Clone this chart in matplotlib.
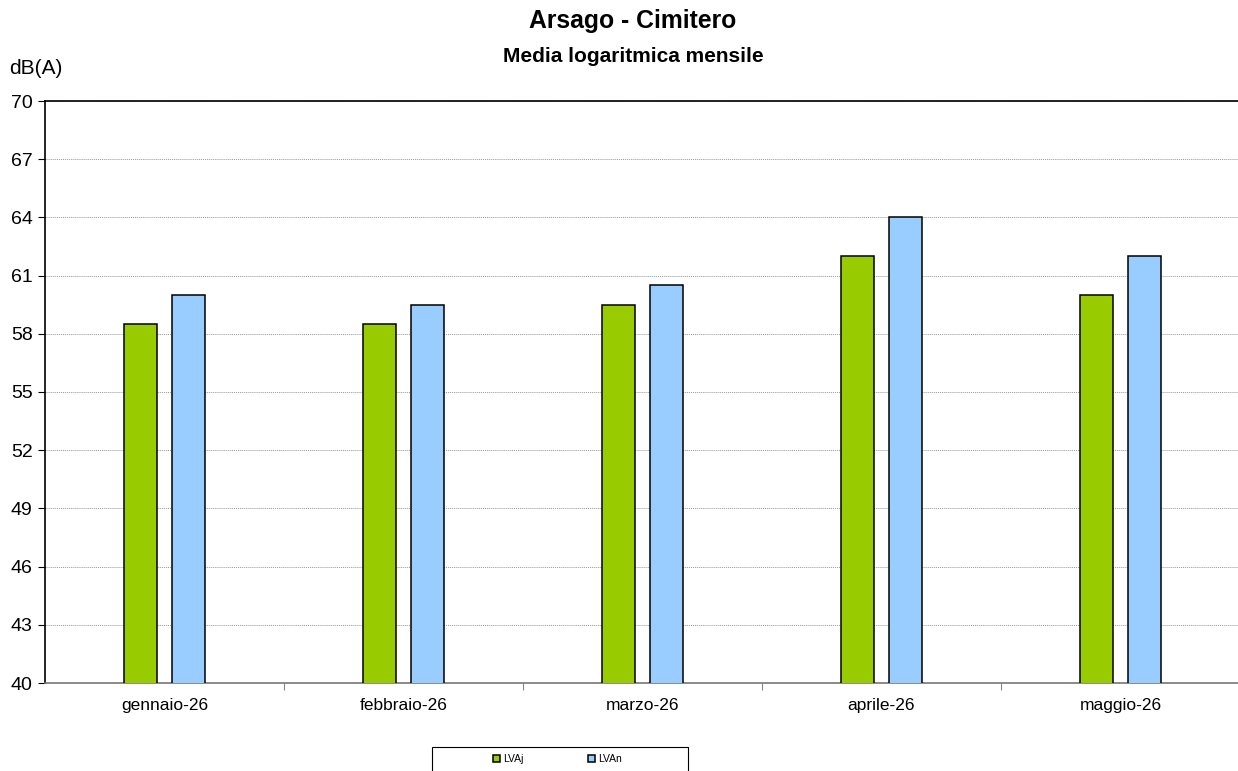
import matplotlib.pyplot as plt
from matplotlib.patches import Rectangle
import numpy as np

plt.rcParams['font.family'] = ['Liberation Sans', 'DejaVu Sans']

# Data
months = ['gennaio-26', 'febbraio-26', 'marzo-26', 'aprile-26', 'maggio-26']
lvaj = [58.5, 58.5, 59.5, 62.0, 60.0]
lvan = [60.0, 59.5, 60.5, 64.0, 62.0]
yticks = list(range(40, 71, 3))

fig = plt.figure(figsize=(12.38, 7.71), dpi=100)
ax = fig.add_axes([45 / 1238, 1 - 683 / 771, 1195 / 1238, 582 / 771])

x = np.arange(len(months))
w = 0.138
ax.bar(x - 0.102, lvaj, w, bottom=0, color='#99CC00', edgecolor='black',
       linewidth=1.1, label='LVAj', zorder=3)
ax.bar(x + 0.102, lvan, w, bottom=0, color='#99CCFF', edgecolor='black',
       linewidth=1.1, label='LVAn', zorder=3)

ax.set_xlim(-0.5, 4.5)
ax.set_ylim(40, 70)
ax.set_yticks(yticks)
ax.tick_params(axis='y', labelsize=14, length=5, width=0.8, direction='out', pad=4)
ax.set_xticks(x)
ax.set_xticklabels(months, fontsize=12.5)
ax.tick_params(axis='x', which='major', length=0, pad=11)
ax.set_xticks(x[:-1] + 0.5, minor=True)
ax.tick_params(axis='x', which='minor', length=5, width=0.8, color='#888888')

ax.grid(axis='y', color='#999999', linestyle=(0, (1, 1)), linewidth=0.7, zorder=0)
ax.spines['right'].set_visible(False)
ax.spines['top'].set_linewidth(1.2)
ax.spines['left'].set_linewidth(1.2)
ax.spines['bottom'].set_color('#777777')
ax.spines['bottom'].set_linewidth(1.2)

fig.text(633 / 1238, 1 - 21 / 771, 'Arsago - Cimitero', ha='center', va='center',
         fontsize=17.8, fontweight='bold', fontstretch='normal')
fig.text(633 / 1238, 1 - 57 / 771, 'Media logaritmica mensile', ha='center', va='center',
         fontsize=15, fontweight='bold', fontstretch='normal')
fig.text(9 / 1238, 1 - 68 / 771, 'dB(A)', ha='left', va='center', fontsize=15)

# legend box, running off the bottom edge like the original
fig.add_artist(Rectangle((432 / 1238, -0.02), 256 / 1238, 0.02 + 1 - 747 / 771,
                         transform=fig.transFigure, facecolor='none',
                         edgecolor='black', linewidth=0.8))
leg = ax.legend(loc='center left', bbox_to_anchor=(493 / 1238, 1 - 759 / 771),
                bbox_transform=fig.transFigure, ncol=2, fontsize=7.5,
                frameon=False, handlelength=0.7, handleheight=0.7,
                handletextpad=0.25, borderpad=0, borderaxespad=0,
                columnspacing=6.2)

fig.savefig('out.png', dpi=100)
